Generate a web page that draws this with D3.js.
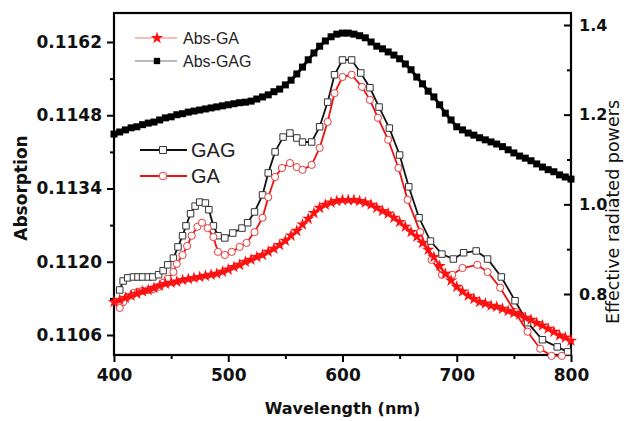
<!DOCTYPE html>
<html>
<head>
<meta charset="utf-8">
<script src="https://cdn.jsdelivr.net/npm/d3@7/dist/d3.min.js"></script>
<style>
  body { margin: 0; background: #fff; }
  svg { display: block; }
</style>
</head>
<body>
<div class="item"></div>
<script>
var width = 632;   // canvas width
var height = 421;  // canvas height

// ---- data ----
// absorption spectra (left axis), sampled every 5 nm
var absWl = [400,405,410,415,420,425,430,435,440,445,450,455,460,465,470,475,480,485,490,495,
  500,505,510,515,520,525,530,535,540,545,550,555,560,565,570,575,580,585,590,595,
  600,605,610,615,620,625,630,635,640,645,650,655,660,665,670,675,680,685,690,695,
  700,705,710,715,720,725,730,735,740,745,750,755,760,765,770,775,780,785,790,795,800];
var absGAG = [0.11444,0.11448,0.11452,0.11456,0.11458,0.11462,0.11465,0.11467,0.11471,0.11475,
  0.11477,0.11481,0.11483,0.11486,0.11488,0.11490,0.11492,0.11494,0.11496,0.11498,
  0.11500,0.11502,0.11504,0.11505,0.11507,0.11511,0.11515,0.11519,0.11525,0.11530,
  0.11538,0.11547,0.11559,0.11572,0.11586,0.11599,0.11612,0.11622,0.11630,0.11635,
  0.11637,0.11637,0.11635,0.11632,0.11628,0.11620,0.11612,0.11607,0.11601,0.11595,
  0.11588,0.11578,0.11567,0.11553,0.11540,0.11526,0.11515,0.11500,0.11484,0.11471,
  0.11458,0.11452,0.11446,0.11442,0.11437,0.11433,0.11429,0.11425,0.11420,0.11414,
  0.11408,0.11402,0.11398,0.11393,0.11387,0.11381,0.11376,0.11372,0.11366,0.11362,0.11358];
var absGA = [0.11123,0.11127,0.11131,0.11135,0.11139,0.11143,0.11146,0.11150,0.11154,0.11158,
  0.11160,0.11162,0.11165,0.11167,0.11169,0.11171,0.11173,0.11175,0.11177,0.11181,
  0.11185,0.11190,0.11194,0.11200,0.11204,0.11209,0.11213,0.11219,0.11225,0.11232,
  0.11240,0.11250,0.11259,0.11271,0.11282,0.11293,0.11303,0.11309,0.11313,0.11316,
  0.11318,0.11318,0.11318,0.11316,0.11313,0.11309,0.11303,0.11297,0.11292,0.11284,
  0.11276,0.11267,0.11257,0.11248,0.11236,0.11223,0.11209,0.11192,0.11177,0.11164,
  0.11152,0.11143,0.11135,0.11129,0.11123,0.11120,0.11116,0.11114,0.11110,0.11106,
  0.11102,0.11099,0.11093,0.11089,0.11083,0.11078,0.11072,0.11066,0.11059,0.11055,0.11049];

// effective radiated powers (right axis)
var gagWl = [405,408,412,417,421,425,430,434,439,443,447,452,456,460,463,467,471,475,480,483,
  487,491,497,504,512,517,523,530,535,541,548,554,560,565,573,580,587,593,600,608,
  616,624,632,641,650,658,667,677,687,697,706,717,727,739,751,762,775,788,797];
var gagPow = [0.809,0.829,0.836,0.838,0.838,0.838,0.838,0.838,0.843,0.852,
  0.865,0.880,0.905,0.930,0.952,0.979,0.996,1.005,1.003,0.988,
  0.952,0.930,0.925,0.936,0.947,0.959,0.983,1.021,1.070,1.117,
  1.150,1.159,1.148,1.139,1.139,1.173,1.228,1.289,1.322,1.322,
  1.293,1.260,1.217,1.170,1.110,1.039,0.970,0.918,0.889,0.878,
  0.892,0.896,0.878,0.838,0.785,0.736,0.698,0.682,0.671];
var gaWl = [405,408,412,417,421,425,430,434,439,443,447,452,455,460,464,468,473,477,482,487,
  491,497,503,510,516,523,530,535,541,547,554,560,565,573,580,587,593,600,608,617,
  624,631,640,649,657,668,678,687,696,705,718,727,738,751,762,773,783,792];
var gaPow = [0.769,0.782,0.794,0.802,0.805,0.807,0.809,0.811,0.816,0.825,
  0.834,0.849,0.867,0.887,0.907,0.930,0.950,0.959,0.947,0.927,
  0.894,0.887,0.894,0.905,0.914,0.938,0.970,1.016,1.061,1.081,
  1.092,1.083,1.077,1.088,1.126,1.184,1.248,1.284,1.289,1.262,
  1.233,1.193,1.144,1.081,1.010,0.938,0.876,0.843,0.843,0.858,
  0.865,0.849,0.814,0.760,0.716,0.678,0.662,0.662];

// tick labels
var xTicks = [400, 500, 600, 700, 800];
var xMinor = [450, 550, 650, 750];
var leftTicks = [0.1106, 0.1120, 0.1134, 0.1148, 0.1162];
var leftMinor = [0.1113, 0.1127, 0.1141, 0.1155];
var rightTicks = [0.8, 1.0, 1.2, 1.4];
var rightMinor = [0.9, 1.1, 1.3];

// ---- layout ----
var plotL = 114, plotR = 571, plotT = 13, plotB = 355;
var numFont = "DejaVu Sans, sans-serif";
var txtFont = "Liberation Sans, Arial, sans-serif";

var svg = d3.select(".item")
    .append("svg")
    .attr("width", width)
    .attr("height", height);

var x = d3.scaleLinear().domain([400, 800]).range([plotL, plotR]);
var yL = d3.scaleLinear().domain([0.1106, 0.1162]).range([335, 42]);
var yR = d3.scaleLinear().domain([0.8, 1.4]).range([294, 25]);

// ---- axes ----
function styleAxis(g) {
  g.select(".domain").remove();
  g.selectAll(".tick line").attr("stroke", "#000").attr("stroke-width", 2);
  g.selectAll("text").attr("fill", "#111");
}

svg.append("g")
    .attr("transform", "translate(0," + plotB + ")")
    .call(d3.axisBottom(x).tickValues(xTicks).tickSize(7).tickPadding(7).tickFormat(d3.format("d")))
    .call(styleAxis)
    .selectAll("text")
    .style("font-family", numFont).style("font-weight", "bold").style("font-size", "17px");
svg.append("g")
    .attr("transform", "translate(0," + plotB + ")")
    .call(d3.axisBottom(x).tickValues(xMinor).tickSize(4).tickFormat(""))
    .call(styleAxis);

svg.append("g")
    .attr("transform", "translate(" + plotL + ",0)")
    .call(d3.axisLeft(yL).tickValues(leftTicks).tickSize(7).tickPadding(5).tickFormat(d3.format(".4f")))
    .call(styleAxis)
    .selectAll("text")
    .style("font-family", numFont).style("font-weight", "bold").style("font-size", "17px");
svg.append("g")
    .attr("transform", "translate(" + plotL + ",0)")
    .call(d3.axisLeft(yL).tickValues(leftMinor).tickSize(4).tickFormat(""))
    .call(styleAxis);

// right axis: ticks point inwards
svg.append("g")
    .attr("transform", "translate(" + plotR + ",0)")
    .call(d3.axisRight(yR).tickValues(rightTicks).tickSize(-7).tickPadding(8).tickFormat(d3.format(".1f")))
    .call(styleAxis)
    .selectAll("text")
    .style("font-family", numFont).style("font-weight", "bold").style("font-size", "16px");
svg.append("g")
    .attr("transform", "translate(" + plotR + ",0)")
    .call(d3.axisRight(yR).tickValues(rightMinor).tickSize(-4).tickFormat(""))
    .call(styleAxis);

// frame
svg.append("rect")
    .attr("x", plotL).attr("y", plotT)
    .attr("width", plotR - plotL).attr("height", plotB - plotT)
    .attr("fill", "none").attr("stroke", "#000").attr("stroke-width", 2.2);

// axis titles
svg.append("text")
    .attr("x", (plotL + plotR) / 2).attr("y", 414)
    .attr("text-anchor", "middle")
    .style("font-family", numFont).style("font-weight", "bold").style("font-size", "16px")
    .attr("fill", "#111")
    .text("Wavelength (nm)");
svg.append("text")
    .attr("transform", "translate(27,188) rotate(-90)")
    .attr("text-anchor", "middle")
    .style("font-family", numFont).style("font-weight", "bold").style("font-size", "17px")
    .attr("fill", "#111")
    .text("Absorption");
svg.append("text")
    .attr("transform", "translate(619,212) rotate(-90)")
    .attr("text-anchor", "middle")
    .style("font-family", numFont).style("font-size", "17.5px")
    .attr("fill", "#111")
    .text("Effective radiated powers");

// ---- series ----
function pts(wl, vals) {
  return wl.map(function(w, i) { return [w, vals[i]]; });
}
var lineL = d3.line().x(function(d){ return x(d[0]); }).y(function(d){ return yL(d[1]); });
var lineR = d3.line().x(function(d){ return x(d[0]); }).y(function(d){ return yR(d[1]); });

var gagData = pts(gagWl, gagPow);
var gaData = pts(gaWl, gaPow);
var absGAGData = pts(absWl, absGAG);
var absGAData = pts(absWl, absGA);

// GAG: black line, open squares
svg.append("path").datum(gagData)
    .attr("d", lineR).attr("fill", "none").attr("stroke", "#111").attr("stroke-width", 1.8);
svg.selectAll(".gag").data(gagData).enter()
    .append("path").attr("class", "gag")
    .attr("transform", function(d){ return "translate(" + x(d[0]) + "," + yR(d[1]) + ")"; })
    .attr("d", d3.symbol().type(d3.symbolSquare).size(42))
    .attr("fill", "#fff").attr("stroke", "#333").attr("stroke-width", 1);

// GA: red line, open circles
svg.append("path").datum(gaData)
    .attr("d", lineR).attr("fill", "none").attr("stroke", "#f01010").attr("stroke-width", 1.8);
svg.selectAll(".ga").data(gaData).enter()
    .append("circle").attr("class", "ga")
    .attr("cx", function(d){ return x(d[0]); })
    .attr("cy", function(d){ return yR(d[1]); })
    .attr("r", 3.6)
    .attr("fill", "#fff").attr("stroke", "#e8393a").attr("stroke-width", 1);

// Abs-GAG: filled black squares
svg.append("path").datum(absGAGData)
    .attr("d", lineL).attr("fill", "none").attr("stroke", "#000").attr("stroke-width", 3);
svg.selectAll(".agag").data(absGAGData).enter()
    .append("path").attr("class", "agag")
    .attr("transform", function(d){ return "translate(" + x(d[0]) + "," + yL(d[1]) + ")"; })
    .attr("d", d3.symbol().type(d3.symbolSquare).size(49))
    .attr("fill", "#000");

// Abs-GA: red stars
svg.append("path").datum(absGAData)
    .attr("d", lineL).attr("fill", "none").attr("stroke", "#ff2020").attr("stroke-width", 2.5);
svg.selectAll(".aga").data(absGAData).enter()
    .append("path").attr("class", "aga")
    .attr("transform", function(d){ return "translate(" + x(d[0]) + "," + yL(d[1]) + ")"; })
    .attr("d", d3.symbol().type(d3.symbolStar).size(48))
    .attr("fill", "#ff1010");

// ---- legends ----
var lgTop = svg.append("g");
lgTop.append("line").attr("x1", 135).attr("x2", 177).attr("y1", 38).attr("y2", 38)
    .attr("stroke", "#f07a7a").attr("stroke-width", 1.2);
lgTop.append("path").attr("transform", "translate(157,38)")
    .attr("d", d3.symbol().type(d3.symbolStar).size(48)).attr("fill", "#ff1010");
lgTop.append("text").attr("x", 183).attr("y", 44)
    .style("font-family", txtFont).style("font-size", "16px").attr("fill", "#222").text("Abs-GA");
lgTop.append("line").attr("x1", 135).attr("x2", 177).attr("y1", 61).attr("y2", 61)
    .attr("stroke", "#777").attr("stroke-width", 1.2);
lgTop.append("path").attr("transform", "translate(157,61)")
    .attr("d", d3.symbol().type(d3.symbolSquare).size(40)).attr("fill", "#000");
lgTop.append("text").attr("x", 183).attr("y", 67)
    .style("font-family", txtFont).style("font-size", "16px").attr("fill", "#222").text("Abs-GAG");

var lgMid = svg.append("g");
lgMid.append("line").attr("x1", 140).attr("x2", 187).attr("y1", 150).attr("y2", 150)
    .attr("stroke", "#111").attr("stroke-width", 2);
lgMid.append("path").attr("transform", "translate(163,150)")
    .attr("d", d3.symbol().type(d3.symbolSquare).size(48))
    .attr("fill", "#fff").attr("stroke", "#333").attr("stroke-width", 1);
lgMid.append("text").attr("x", 191).attr("y", 157)
    .style("font-family", txtFont).style("font-size", "20px").attr("fill", "#222").text("GAG");
lgMid.append("line").attr("x1", 140).attr("x2", 187).attr("y1", 176).attr("y2", 176)
    .attr("stroke", "#f01010").attr("stroke-width", 2);
lgMid.append("circle").attr("cx", 163).attr("cy", 176).attr("r", 3.8)
    .attr("fill", "#fff").attr("stroke", "#e8393a").attr("stroke-width", 1);
lgMid.append("text").attr("x", 191).attr("y", 183)
    .style("font-family", txtFont).style("font-size", "20px").attr("fill", "#222").text("GA");
</script>
</body>
</html>
